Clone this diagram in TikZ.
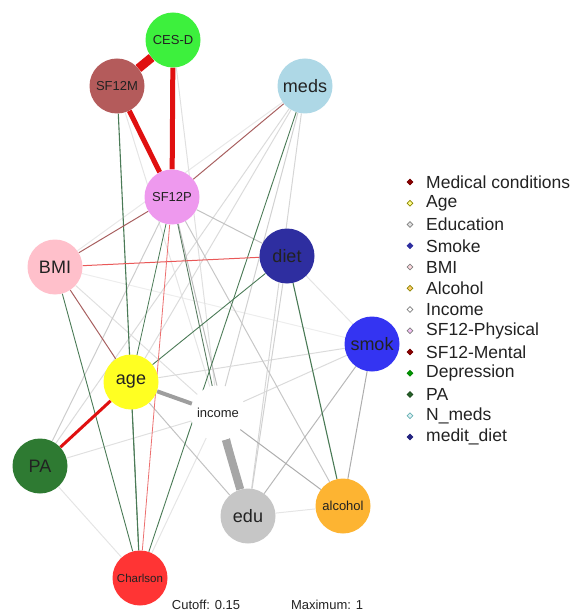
\documentclass[tikz,border=0pt]{standalone}
\usepackage{fontspec}
\setmainfont{Liberation Sans}
\usetikzlibrary{shapes.geometric,backgrounds}
\definecolor{cCESD}{HTML}{3DF03D}
\definecolor{cSFM}{HTML}{B45B5B}
\definecolor{cMeds}{HTML}{AED8E6}
\definecolor{cSFP}{HTML}{EE99EE}
\definecolor{cBMI}{HTML}{FFC0CB}
\definecolor{cDiet}{HTML}{2E2EA0}
\definecolor{cSmok}{HTML}{3434F2}
\definecolor{cAge}{HTML}{FFFF22}
\definecolor{cPA}{HTML}{2E7A32}
\definecolor{cEdu}{HTML}{C6C6C6}
\definecolor{cAlc}{HTML}{FDB432}
\definecolor{cCharl}{HTML}{FF3434}
\definecolor{eRed}{HTML}{E01010}
\definecolor{eBrown}{HTML}{A86060}
\definecolor{eGreen}{HTML}{4A7A56}
\definecolor{txt}{HTML}{222222}
\begin{document}
\begin{tikzpicture}[x=1pt,y=-1pt,
  vert/.style={circle,minimum size=55pt,inner sep=0pt,text=txt,font=\fontsize{18}{18}\selectfont},
  small/.style={font=\fontsize{13}{13}\selectfont},
  tiny/.style={font=\fontsize{11.5}{11.5}\selectfont},
  red edge/.style={draw=eRed,line width=#1},
  brown edge/.style={draw=eBrown,line width=#1},
  green edge/.style={draw=eGreen,line width=#1},
  gray edge/.style={draw=black!#1,line width=1pt},
  legb/.style={diamond,minimum size=6pt,inner sep=0pt,line width=0.6pt},
  legt/.style={anchor=west,text=txt,font=\fontsize{17.5}{17.5}\selectfont,inner sep=0pt},
  note/.style={text=txt,font=\fontsize{13}{13}\selectfont}
]
\useasboundingbox (0,0) rectangle (571,612);
% nodes
\node[vert,small,fill=cCESD] (cesd) at (173,40) {CES-D};
\node[vert,small,fill=cSFM] (sfm) at (117,86) {SF12M};
\node[vert,fill=cMeds] (meds) at (305,86) {meds};
\node[vert,small,fill=cSFP] (sfp) at (172,197) {SF12P};
\node[vert,fill=cBMI] (bmi) at (55,267) {BMI};
\node[vert,fill=cDiet] (diet) at (287,256) {diet};
\node[vert,fill=cSmok] (smok) at (372,344) {smok};
\node[vert,fill=cAge] (age) at (131,382) {age};
\node[vert,small,fill=white] (inc) at (218,413) {income};
\node[vert,fill=cPA] (pa) at (40,466) {PA};
\node[vert,fill=cEdu] (edu) at (248,516) {edu};
\node[vert,small,fill=cAlc] (alc) at (343,506) {alcohol};
\node[vert,tiny,fill=cCharl] (charl) at (140,578) {Charlson};
% edges
\begin{scope}[on background layer]
% faint gray
\draw[gray edge=10] (pa) -- (charl);
\draw[gray edge=10] (edu) -- (alc);
\draw[gray edge=10] (charl) -- (inc);
\draw[gray edge=9] (meds) -- (bmi);
\draw[gray edge=7] (bmi) -- (smok);
\draw[gray edge=12] (bmi) -- (inc);
\draw[gray edge=12] (pa) -- (inc);
\draw[gray edge=12] (cesd) -- (inc);
\draw[gray edge=10] (sfm) -- (inc);
\draw[gray edge=14] (pa) -- (meds);
\draw[gray edge=14] (meds) -- (age);
\draw[gray edge=18] (meds) -- (inc);
\draw[gray edge=16] (meds) -- (edu);
\draw[gray edge=14] (smok) -- (age);
\draw[gray edge=14] (smok) -- (inc);
\draw[gray edge=10] (diet) -- (smok);
\draw[gray edge=18] (diet) -- (edu);
\draw[gray edge=20] (sfp) -- (pa);
\draw[gray edge=24] (sfp) -- (diet);
\draw[gray edge=26] (sfp) -- (edu);
\draw[gray edge=22] (sfp) -- (alc);
\draw[gray edge=24] (age) -- (edu);
\draw[gray edge=28] (smok) -- (edu);
\draw[gray edge=32] (smok) -- (alc);
\draw[gray edge=32] (inc) -- (alc);
% green
\draw[green edge=1.1pt] (sfm) -- (charl);
\draw[green edge=0.9pt] (bmi) -- (charl);
\draw[green edge=0.8pt] (sfp) -- (age);
\draw[green edge=0.9pt,draw=eGreen!70!gray] (sfp) -- (inc);
\draw[green edge=0.9pt] (diet) -- (age);
\draw[green edge=0.9pt] (meds) -- (charl);
\draw[green edge=1.1pt] (diet) -- (alc);
\draw[green edge=0.7pt] (age) -- (charl);
% red / brown
\draw[brown edge=1pt] (sfp) -- (meds);
\draw[brown edge=1pt] (sfp) -- (bmi);
\draw[red edge=1pt,draw=eRed!70!white] (bmi) -- (diet);
\draw[brown edge=1pt] (bmi) -- (age);
\draw[red edge=0.8pt,draw=eRed!60!white] (sfp) -- (charl);
\draw[red edge=3pt] (age) -- (pa);
\draw[red edge=5pt] (sfm) -- (sfp);
\draw[red edge=5pt] (cesd) -- (sfp);
\draw[red edge=9pt] (cesd) -- (sfm);
% thick gray
\draw[draw=black!38,line width=4pt] (age) -- (inc);
\draw[draw=black!35,line width=8pt] (inc) -- (edu);
\end{scope}
% legend
\foreach \t/\f/\d [count=\i from 0] in {
  Medical conditions/red!55!black/red!45!black,
  Age/cAge!50/olive,
  Education/cEdu!50/gray,
  Smoke/cDiet/cDiet,
  BMI/cBMI!60/gray,
  Alcohol/cAlc!70/olive,
  Income/white/gray,
  SF12-Physical/cSFP!60/gray,
  SF12-Mental/red!55!black/red!45!black,
  Depression/green!60!black/green!50!black,
  PA/cPA!80!black/cPA!60!black,
  N\_meds/cMeds!40/teal!60,
  medit\_diet/cDiet!80!black/cDiet!80!black}
{
  \node[legb,fill=\f,draw=\d] (lb\i) at (410,{182+21.25*\i}) {};
  \node[legt] (lt\i) at (426,{182+21.25*\i}) {\t};
}
\node[note] (cut) at (206,605) {Cutoff: 0.15};
\node[note] (maxi) at (327,605) {Maximum: 1};
\end{tikzpicture}
\end{document}
